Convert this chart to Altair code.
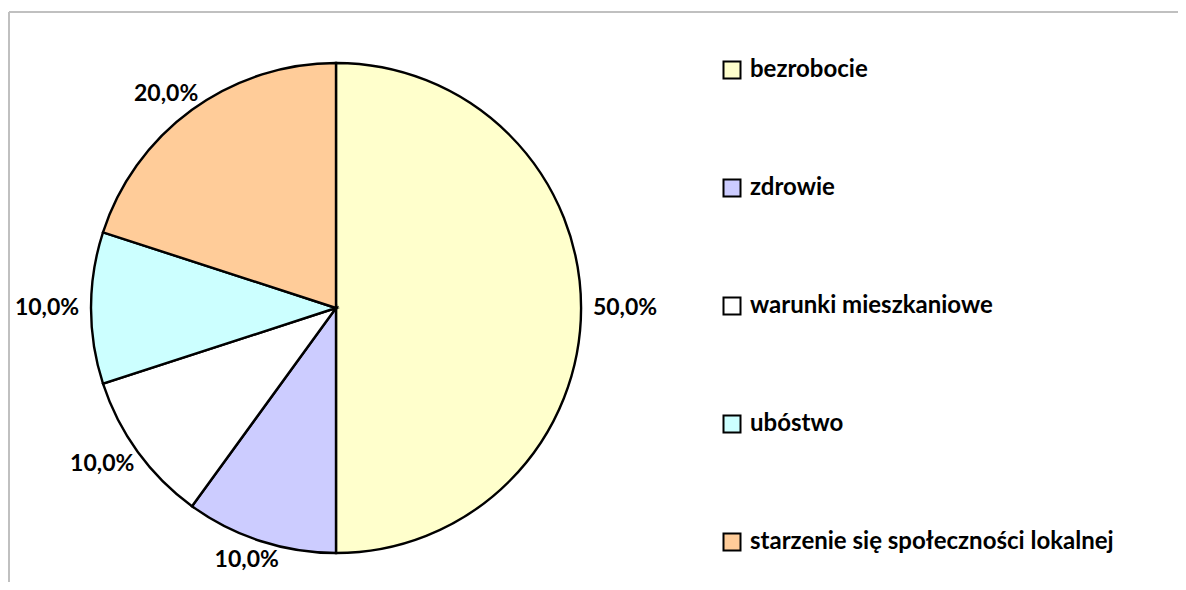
import math
import altair as alt
import pandas as pd

categories = ["bezrobocie", "zdrowie", "warunki mieszkaniowe", "ubóstwo",
              "starzenie się społeczności lokalnej"]
values = [50.0, 10.0, 10.0, 10.0, 20.0]
labels = ["50,0%", "10,0%", "10,0%", "10,0%", "20,0%"]
colors = ["#FFFFCC", "#CCCCFF", "#FFFFFF", "#CCFFFF", "#FFCC99"]

df = pd.DataFrame({
    "category": categories,
    "value": values,
    "label": labels,
    "order": list(range(len(categories))),
})

FONT = "Lato"
R = 245

base = alt.Chart(df)

pie = base.mark_arc(outerRadius=R, stroke="black", strokeWidth=2.4).encode(
    theta=alt.Theta("value:Q", stack=True),
    order=alt.Order("order:Q"),
    color=alt.Color(
        "category:N",
        sort=categories,
        scale=alt.Scale(domain=categories, range=colors),
        legend=alt.Legend(
            title=None,
            orient="none",
            legendX=712,
            legendY=18,
            direction="vertical",
            symbolType="square",
            symbolSize=289,
            symbolStrokeColor="black",
            symbolStrokeWidth=2,
            labelFont=FONT,
            labelFontSize=24,
            labelFontWeight="bold",
            labelColor="black",
            labelOffset=6,
            rowPadding=92,
            labelLimit=600,
            padding=0,
        ),
    ),
)

# label positions: ellipse slightly larger than the pie, around slice mid-angle
text = base.mark_text(font=FONT, fontSize=23, fontWeight="bold", color="black",
                      align="center", baseline="middle").transform_window(
    cum="sum(value)", sort=[alt.SortField("order")]
).transform_joinaggregate(
    total="sum(value)"
).transform_calculate(
    ang="2*PI*(datum.cum - datum.value/2)/datum.total"
).transform_calculate(
    lx=f"{R + 12 + 32}*sin(datum.ang)",
    ly=f"-{R + 10 + 10}*cos(datum.ang)",
).transform_calculate(
    lr="sqrt(datum.lx*datum.lx + datum.ly*datum.ly)",
    la="(atan2(datum.lx, -datum.ly) + 2*PI) % (2*PI)",
).encode(
    theta=alt.Theta("la:Q", scale=alt.Scale(domain=[0, 2 * math.pi], range=[0, 2 * math.pi])),
    radius=alt.Radius("lr:Q", scale=alt.Scale(type="linear", domain=[0, 400], range=[0, 400], zero=True)),
    text="label:N",
)

border_top = base.mark_rule(color="#C0C0C0", strokeWidth=2).encode(
    x=alt.value(1), x2=alt.value(1170), y=alt.value(-28)
)
border_left = base.mark_rule(color="#C0C0C0", strokeWidth=2).encode(
    x=alt.value(1), y=alt.value(-28), y2=alt.value(542)
)

chart = alt.layer(border_top, border_left, pie, text).resolve_scale(
    theta="independent", radius="independent"
).properties(
    width=656,
    height=536,
    background="white",
    padding={"left": 0, "top": 32, "right": 514, "bottom": 6},
    autosize=alt.AutoSizeParams(type="none"),
).configure_view(strokeWidth=0, stroke="transparent")

chart.save("out.html", embed_options={"renderer": "svg", "actions": False})
